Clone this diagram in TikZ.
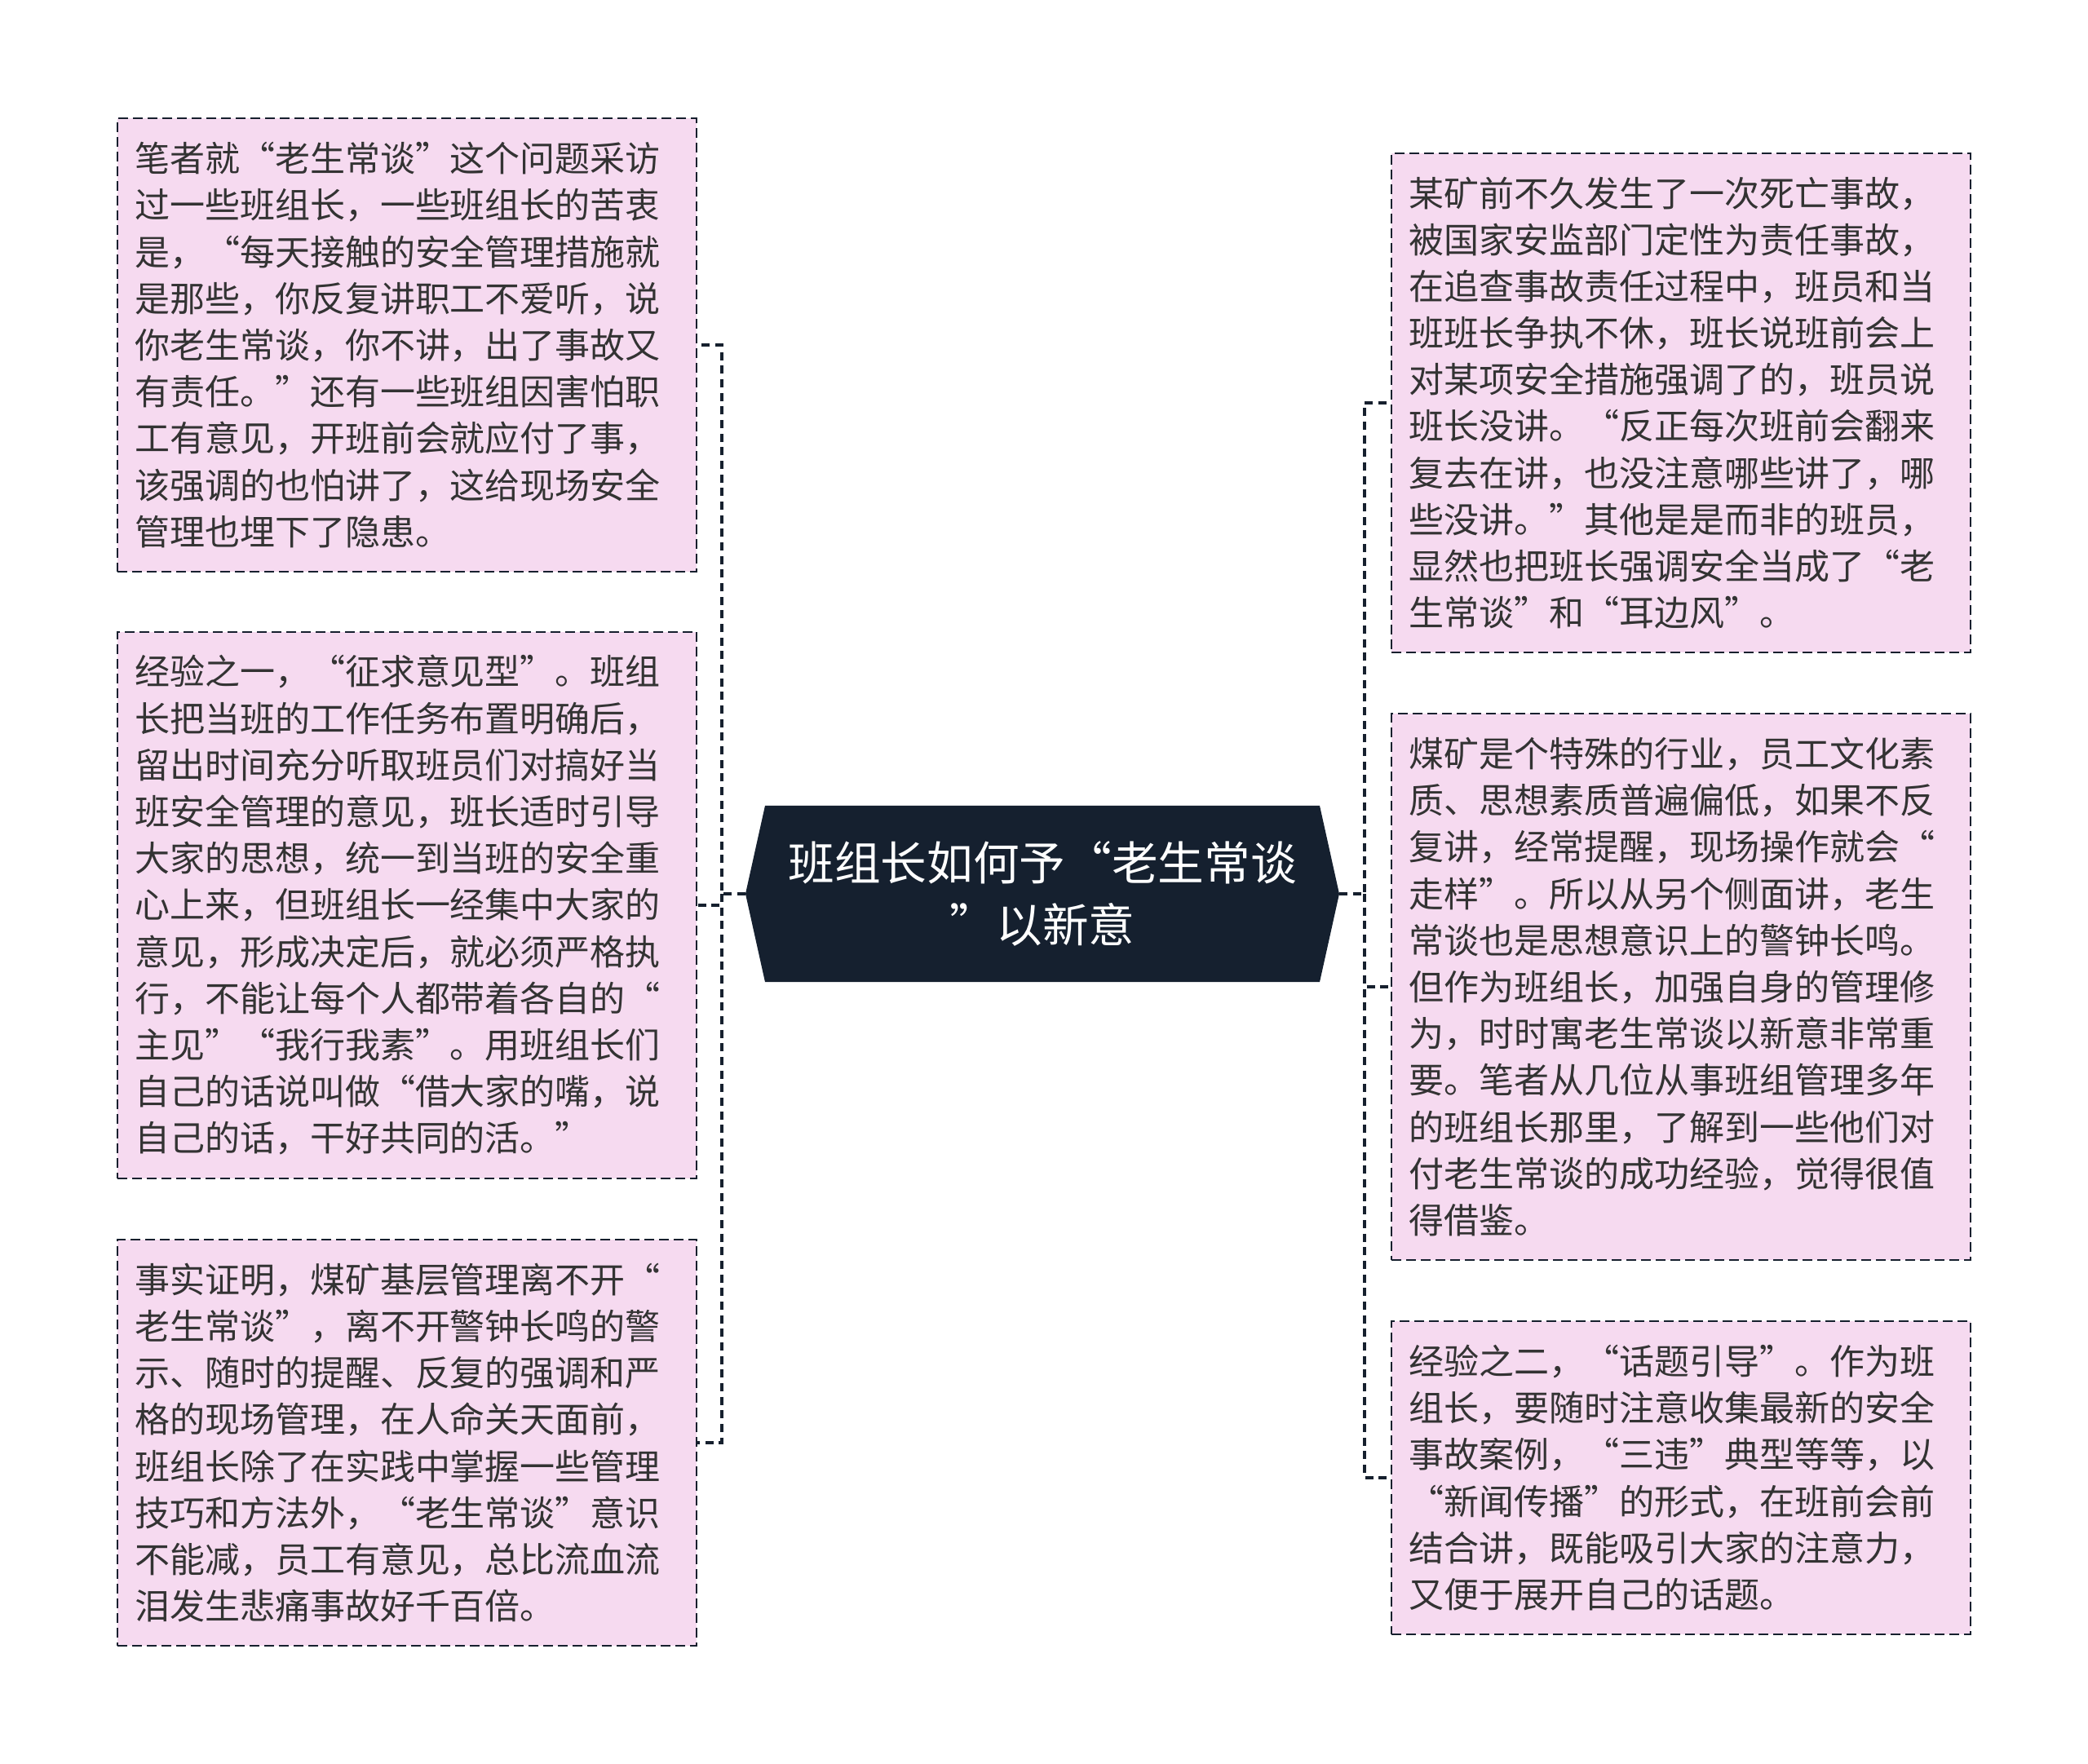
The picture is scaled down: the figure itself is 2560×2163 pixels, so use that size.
\documentclass[tikz,border=0pt]{standalone}
\usepackage{fontspec}
\setmainfont{Noto Sans CJK SC}
\usetikzlibrary{calc,backgrounds}
\definecolor{leaffill}{HTML}{F6DAF0}
\definecolor{inkline}{HTML}{16202E}
\definecolor{rootfill}{HTML}{15202F}
\definecolor{leaftext}{HTML}{333333}

\begin{document}
\begin{tikzpicture}[x=0.3pt,y=-0.3pt,
  leaf/.style={fill=leaffill,draw=inkline,line width=0.65pt,
    dash pattern=on 3.6pt off 1.8pt,text=leaftext,text width=200.4pt,
    align=left,inner xsep=6.3pt,inner ysep=8.65pt,
    font=\fontsize{12.9pt}{17.16pt}\selectfont},
  root/.style={text=white,align=center,inner sep=0pt,
    minimum width=218pt,minimum height=64.5pt,
    font=\fontsize{17pt}{22.6pt}\selectfont},
  link/.style={draw=inkline,line width=1pt,dash pattern=on 3pt off 2pt}]
  \useasboundingbox (0,0) rectangle (2560,2163);
  % centre topic
  \node[root] (root) at (1278,1096) {班组长如何予“老生常谈\\”以新意};
  \begin{scope}[on background layer]
    \fill[rootfill] (root.west) -- ($(root.north west)+(24,0)$)
      -- ($(root.north east)+(-24,0)$) -- (root.east)
      -- ($(root.south east)+(-24,0)$) -- ($(root.south west)+(24,0)$) -- cycle;
  \end{scope}
  % left branch
  \node[leaf] (L1) at (499,423) {笔者就“老生常谈”这个问题采访\\过一些班组长，一些班组长的苦衷\\是，“每天接触的安全管理措施就\\是那些，你反复讲职工不爱听，说\\你老生常谈，你不讲，出了事故又\\有责任。”还有一些班组因害怕职\\工有意见，开班前会就应付了事，\\该强调的也怕讲了，这给现场安全\\管理也埋下了隐患。};
  \node[leaf] (L2) at (499,1110) {经验之一，“征求意见型”。班组\\长把当班的工作任务布置明确后，\\留出时间充分听取班员们对搞好当\\班安全管理的意见，班长适时引导\\大家的思想，统一到当班的安全重\\心上来，但班组长一经集中大家的\\意见，形成决定后，就必须严格执\\行，不能让每个人都带着各自的“\\主见”“我行我素”。用班组长们\\自己的话说叫做“借大家的嘴，说\\自己的话，干好共同的活。”};
  \node[leaf] (L3) at (499,1769) {事实证明，煤矿基层管理离不开“\\老生常谈”，离不开警钟长鸣的警\\示、随时的提醒、反复的强调和严\\格的现场管理，在人命关天面前，\\班组长除了在实践中掌握一些管理\\技巧和方法外，“老生常谈”意识\\不能减，员工有意见，总比流血流\\泪发生悲痛事故好千百倍。};
  % right branch
  \node[leaf] (R1) at (2061,494) {某矿前不久发生了一次死亡事故，\\被国家安监部门定性为责任事故，\\在追查事故责任过程中，班员和当\\班班长争执不休，班长说班前会上\\对某项安全措施强调了的，班员说\\班长没讲。“反正每次班前会翻来\\复去在讲，也没注意哪些讲了，哪\\些没讲。”其他是是而非的班员，\\显然也把班长强调安全当成了“老\\生常谈”和“耳边风”。};
  \node[leaf] (R2) at (2061,1210) {煤矿是个特殊的行业，员工文化素\\质、思想素质普遍偏低，如果不反\\复讲，经常提醒，现场操作就会“\\走样”。所以从另个侧面讲，老生\\常谈也是思想意识上的警钟长鸣。\\但作为班组长，加强自身的管理修\\为，时时寓老生常谈以新意非常重\\要。笔者从几位从事班组管理多年\\的班组长那里，了解到一些他们对\\付老生常谈的成功经验，觉得很值\\得借鉴。};
  \node[leaf] (R3) at (2061,1812) {经验之二，“话题引导”。作为班\\组长，要随时注意收集最新的安全\\事故案例，“三违”典型等等，以\\“新闻传播”的形式，在班前会前\\结合讲，既能吸引大家的注意力，\\又便于展开自己的话题。};
  % connectors
  \coordinate (lj) at (885,1096);
  \coordinate (rj) at (1673,1096);
  \draw[link] (root.west) -- (lj) |- (L1.east);
  \draw[link] (lj) |- (L2.east);
  \draw[link] (lj) |- (L3.east);
  \draw[link] (root.east) -- (rj) |- (R1.west);
  \draw[link] (rj) |- (R2.west);
  \draw[link] (rj) |- (R3.west);
\end{tikzpicture}
\end{document}
